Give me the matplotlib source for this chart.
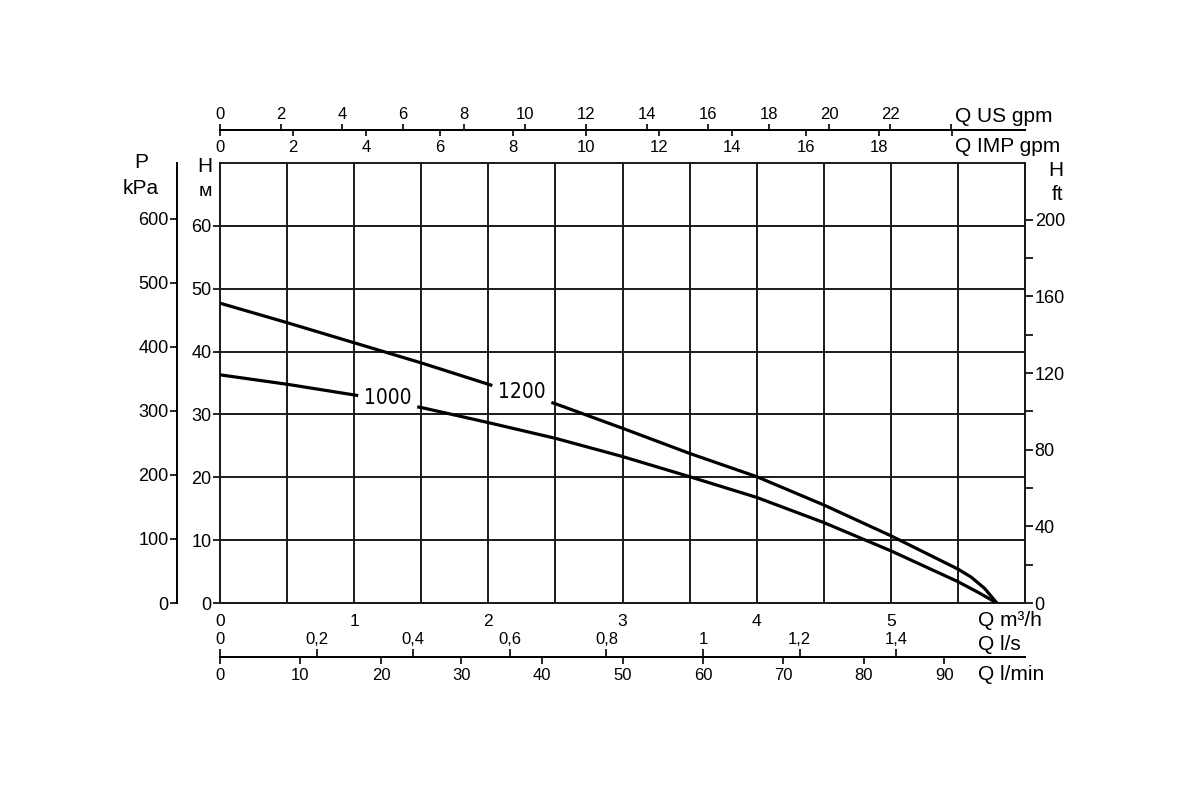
import numpy as np
import matplotlib
matplotlib.use("Agg")
import matplotlib.pyplot as plt
from matplotlib import font_manager

# ---------------- data ----------------
q_1000 = [0.0, 0.5, 1.0, 1.03, 1.47, 1.5, 2.0, 2.5, 3.0, 3.5, 4.0, 4.5, 5.0, 5.5, 5.65, 5.79]
h_1000 = [36.3, 34.8, 33.1, 33.0, 31.2, 31.1, 28.7, 26.2, 23.3, 20.1, 16.8, 12.8, 8.3, 3.4, 1.7, 0.0]
q_1200 = [0.0, 0.5, 1.0, 1.5, 2.0, 2.03, 2.47, 2.5, 3.0, 3.5, 4.0, 4.5, 5.0, 5.5, 5.6, 5.7, 5.79]
h_1200 = [47.7, 44.6, 41.4, 38.2, 34.8, 34.6, 31.9, 31.7, 27.8, 23.8, 20.1, 15.6, 10.7, 5.4, 4.1, 2.3, 0.0]
label_1000 = "1000"
label_1200 = "1200"
gap_1000 = (1.03, 1.47)
gap_1200 = (2.03, 2.47)

main_xticks = [0, 1, 2, 3, 4, 5]
h_m_ticks = [0, 10, 20, 30, 40, 50, 60]
kpa_ticks = [0, 100, 200, 300, 400, 500, 600]
ft_major = [0, 40, 80, 120, 160, 200]
ft_minor = [20, 60, 100, 140, 180]
us_gpm_ticks = list(range(0, 25, 2))
us_gpm_labels = [str(v) for v in range(0, 23, 2)] + [""]
imp_gpm_ticks = list(range(0, 21, 2))
imp_gpm_labels = [str(v) for v in range(0, 19, 2)] + [""]
ls_ticks = [0, 0.2, 0.4, 0.6, 0.8, 1.0, 1.2, 1.4]
ls_labels = ["0", "0,2", "0,4", "0,6", "0,8", "1", "1,2", "1,4"]
lmin_ticks = [0, 10, 20, 30, 40, 50, 60, 70, 80, 90]

M3H_TO_USGPM = 4.4029
M3H_TO_IMPGPM = 3.6662
M3H_TO_LS = 1 / 3.6
M3H_TO_LMIN = 1000 / 60
M_TO_KPA = 9.81
M_TO_FT = 3.2808

# ---------------- fonts ----------------
FONT = "Liberation Sans"
names = {f.name for f in font_manager.fontManager.ttflist}
if "Liberation Sans Narrow" in names:
    CURVE_FONT = dict(family="Liberation Sans Narrow", fontsize=17)
else:
    CURVE_FONT = dict(family="DejaVu Sans", fontstretch="condensed", fontsize=15)
plt.rcParams["font.family"] = [FONT, "DejaVu Sans"]

W, H = 1200, 800
fig = plt.figure(figsize=(12, 8), dpi=100)
fig.patch.set_facecolor("white")

def fx(px):
    return px / W

def fy(py):
    return 1 - py / H

L, R, T, B = 220, 1025, 163, 603
ax = fig.add_axes([fx(L), fy(B), (R - L) / W, (B - T) / H])
ax.set_xlim(0, 6)
ax.set_ylim(0, 70)

GRID_LW = 1.4
ax.set_xticks(np.arange(0, 6, 0.5))
ax.set_xticklabels([str(int(v)) if float(v).is_integer() else "" for v in np.arange(0, 6, 0.5)])
ax.set_yticks(h_m_ticks)
ax.grid(True, color="#1a1a1a", lw=GRID_LW)
ax.set_axisbelow(True)
ax.tick_params(axis="x", length=0, pad=8, labelsize=12.5)
ax.tick_params(axis="y", length=5, width=1.2, direction="out", pad=1, labelsize=13)
for s in ax.spines.values():
    s.set_linewidth(GRID_LW)
    s.set_color("#1a1a1a")

# curves with gaps for labels
def draw_curve(q, h, gap):
    q = np.asarray(q); h = np.asarray(h)
    left = q <= gap[0]
    right = q >= gap[1]
    ax.plot(q[left], h[left], color="black", lw=2.3, solid_capstyle="butt", zorder=3)
    ax.plot(q[right], h[right], color="black", lw=2.3, solid_capstyle="butt", zorder=3)

draw_curve(q_1000, h_1000, gap_1000)
draw_curve(q_1200, h_1200, gap_1200)
ax.text((gap_1000[0] + gap_1000[1]) / 2, 32.6, label_1000, ha="center", va="center", **CURVE_FONT)
ax.text((gap_1200[0] + gap_1200[1]) / 2, 33.6, label_1200, ha="center", va="center", **CURVE_FONT)

# right: H ft
sec_ft = ax.secondary_yaxis("right", functions=(lambda m: m * M_TO_FT, lambda f: f / M_TO_FT))
sec_ft.set_ticks(ft_major)
sec_ft.set_ticks(ft_minor, minor=True)
sec_ft.tick_params(which="both", length=6, width=1.2, direction="out", pad=1, labelsize=13)
sec_ft.spines["right"].set_linewidth(GRID_LW)

# left: P kPa
loc_p = (177 - L) / (R - L)
sec_p = ax.secondary_yaxis(loc_p, functions=(lambda m: m * M_TO_KPA, lambda p: p / M_TO_KPA))
sec_p.set_ticks(kpa_ticks)
sec_p.tick_params(length=5, width=1.2, direction="out", pad=1, labelsize=13)
sec_p.spines["left"].set_linewidth(GRID_LW)

# top: US gpm (above) and IMP gpm (below)
loc_top = (B - 130) / (B - T)
sec_us = ax.secondary_xaxis(loc_top, functions=(lambda q: q * M3H_TO_USGPM, lambda g: g / M3H_TO_USGPM))
sec_us.set_ticks(us_gpm_ticks, labels=us_gpm_labels)
sec_us.tick_params(length=4, width=1.2, direction="out", pad=2, labelsize=12)
sec_imp = ax.secondary_xaxis(loc_top, functions=(lambda q: q * M3H_TO_IMPGPM, lambda g: g / M3H_TO_IMPGPM))
sec_imp.set_alignment("bottom")
sec_imp.set_ticks(imp_gpm_ticks, labels=imp_gpm_labels)
sec_imp.tick_params(length=4, width=1.2, direction="out", pad=3, labelsize=12)
for s in (sec_us, sec_imp):
    for sp in s.spines.values():
        sp.set_linewidth(GRID_LW)

# bottom: l/s (above) and l/min (below)
loc_bot = (B - 657) / (B - T)
sec_ls = ax.secondary_xaxis(loc_bot, functions=(lambda q: q * M3H_TO_LS, lambda v: v / M3H_TO_LS))
sec_ls.set_alignment("top")
sec_ls.set_ticks(ls_ticks, labels=ls_labels)
sec_ls.tick_params(length=6, width=1.2, direction="out", pad=1, labelsize=12)
sec_lmin = ax.secondary_xaxis(loc_bot, functions=(lambda q: q * M3H_TO_LMIN, lambda v: v / M3H_TO_LMIN))
sec_lmin.set_ticks(lmin_ticks)
sec_lmin.tick_params(length=5, width=1.2, direction="out", pad=3, labelsize=12)
for s in (sec_ls, sec_lmin):
    for sp in s.spines.values():
        sp.set_linewidth(GRID_LW)

# axis names
NAME_FS = 15
fig.text(fx(955), fy(116), "Q US gpm", ha="left", va="center", fontsize=NAME_FS)
fig.text(fx(955), fy(146), "Q IMP gpm", ha="left", va="center", fontsize=NAME_FS)
fig.text(fx(978), fy(620), "Q m³/h", ha="left", va="center", fontsize=NAME_FS)
fig.text(fx(978), fy(645), "Q l/s", ha="left", va="center", fontsize=NAME_FS)
fig.text(fx(978), fy(675), "Q l/min", ha="left", va="center", fontsize=NAME_FS)
fig.text(fx(141), fy(163), "P", ha="center", va="center", fontsize=NAME_FS)
fig.text(fx(141), fy(188), "kPa", ha="center", va="center", fontsize=NAME_FS)
fig.text(fx(205), fy(167), "H", ha="center", va="center", fontsize=NAME_FS)
fig.text(fx(205), fy(191), "м", ha="center", va="center", fontsize=NAME_FS - 1)
fig.text(fx(1063), fy(170), "H", ha="right", va="center", fontsize=NAME_FS)
fig.text(fx(1063), fy(194), "ft", ha="right", va="center", fontsize=NAME_FS)

fig.savefig("out.png", dpi=100, facecolor="white")
